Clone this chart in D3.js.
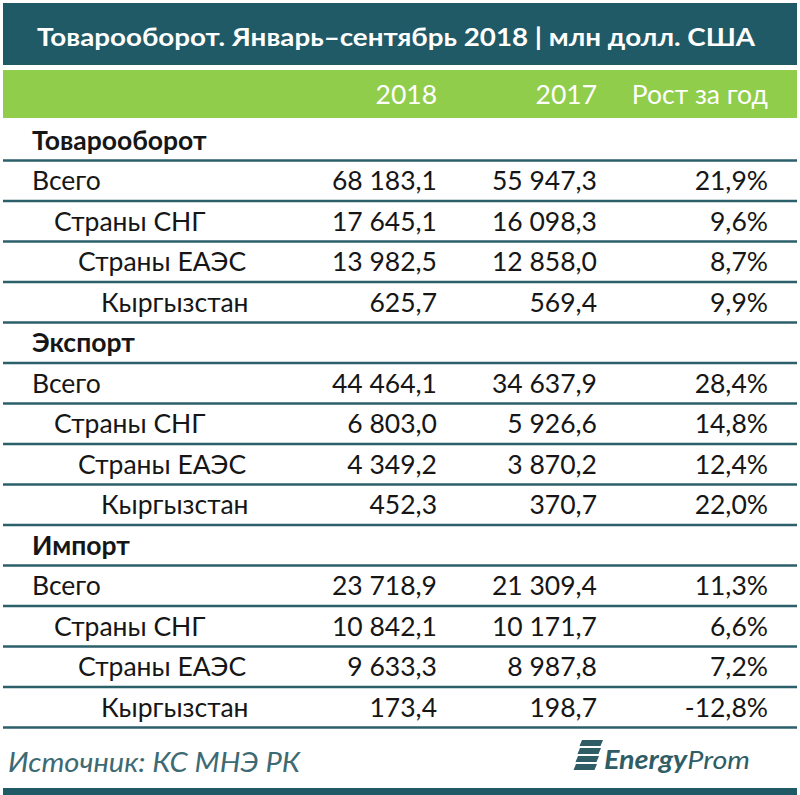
<!DOCTYPE html>
<html><head><meta charset="utf-8">
<script src="https://cdn.jsdelivr.net/npm/d3@7"></script>
<style>body{margin:0;background:#fff}svg{display:block}</style>
</head><body>
<script>
const title = "Товарооборот. Январь–сентябрь 2018 | млн долл. США";
const columns = ["2018", "2017", "Рост за год"];
const sections = ["Товарооборот", "Экспорт", "Импорт"];
const rowLabels = ["Всего", "Страны СНГ", "Страны ЕАЭС", "Кыргызстан"];
const values2018 = [68183.1, 17645.1, 13982.5, 625.7, 44464.1, 6803.0, 4349.2, 452.3, 23718.9, 10842.1, 9633.3, 173.4];
const values2017 = [55947.3, 16098.3, 12858.0, 569.4, 34637.9, 5926.6, 3870.2, 370.7, 21309.4, 10171.7, 8987.8, 198.7];
const growth = [21.9, 9.6, 8.7, 9.9, 28.4, 14.8, 12.4, 22.0, 11.3, 6.6, 7.2, -12.8];
const source = "Источник: КС МНЭ РК";

const W = 800, H = 795;
const FONT = "Lato, 'Open Sans', sans-serif";
const teal = "#1f5a66", green = "#8fcd4b", ink = "#161616";
const loc = d3.formatLocale({decimal: ",", thousands: " ", grouping: [3], currency: ["", ""], minus: "-"});
const fmtV = loc.format(",.1f"), fmtG = v => loc.format(".1f")(v) + "%";
const FS = 26.5;

const svg = d3.select("body").append("svg").attr("width", W).attr("height", H);

// build rows
const rows = [];
sections.forEach((s, si) => {
  rows.push({type: "section", label: s});
  rowLabels.forEach((l, li) => {
    const i = si * 4 + li;
    rows.push({type: "data", label: l, level: li, v18: values2018[i], v17: values2017[i], g: growth[i]});
  });
});

const y = d3.scaleBand().domain(d3.range(rows.length)).range([120, 727.5]);
const indent = d3.scaleOrdinal().domain([0, 1, 2, 3]).range([32, 54, 78, 101]);
const colX = [437, 597, 768];

// title band
svg.append("rect").attr("x", 3).attr("y", 3).attr("width", 794).attr("height", 62).attr("fill", teal);
svg.append("text").attr("x", 37).attr("y", 46).attr("fill", "#fff")
  .attr("font-family", FONT).attr("font-weight", 700).attr("font-size", 25)
  .attr("textLength", 718).attr("lengthAdjust", "spacingAndGlyphs")
  .text(title);

// green header
svg.append("rect").attr("x", 3).attr("y", 70).attr("width", 794).attr("height", 48).attr("fill", green);
svg.selectAll("text.col").data(columns).join("text").attr("class", "col")
  .attr("x", (d, i) => colX[i]).attr("y", 104).attr("text-anchor", "end")
  .attr("fill", "#fff").attr("font-family", FONT).attr("font-size", FS).text(d => d);

// rows
const g = svg.append("g");
const rowG = g.selectAll("g.row").data(rows).join("g").attr("class", "row")
  .attr("transform", (d, i) => `translate(0,${y(i) + y.bandwidth() / 2 + 9.5})`);
rowG.append("text")
  .attr("x", d => d.type === "section" ? 32 : indent(d.level))
  .attr("font-family", FONT).attr("font-size", FS).attr("fill", ink)
  .attr("font-weight", d => d.type === "section" ? 700 : 400)
  .text(d => d.label);
const dataRows = rowG.filter(d => d.type === "data");
[d => fmtV(d.v18), d => fmtV(d.v17), d => fmtG(d.g)].forEach((f, ci) => {
  dataRows.append("text").attr("x", colX[ci]).attr("text-anchor", "end")
    .attr("font-family", FONT).attr("font-size", FS).attr("fill", ink).text(f);
});

// separators
svg.selectAll("line.sep").data(rows).join("line").attr("class", "sep")
  .attr("x1", 3).attr("x2", 797)
  .attr("y1", (d, i) => y(i) + y.bandwidth()).attr("y2", (d, i) => y(i) + y.bandwidth())
  .attr("stroke", "#2b5f6a").attr("stroke-width", 2.5);

// source
svg.append("text").attr("x", 8).attr("y", 772).attr("fill", "#3d6a73")
  .attr("font-family", FONT).attr("font-style", "italic").attr("font-size", 27)
  .attr("textLength", 292).attr("lengthAdjust", "spacingAndGlyphs").text(source);

// logo
const logo = svg.append("g").attr("transform", "translate(575,740)").attr("fill", "#2f5d66");
[0, 1, 2, 3].forEach(k => {
  logo.append("path").attr("d", `M${7 - k * 2},${k * 8} h21 l-2.5,6 h-21 z`);
});
svg.append("text").attr("x", 604).attr("y", 769).attr("fill", "#2f5d66")
  .attr("font-family", FONT).attr("font-style", "italic").attr("font-size", 26)
  .attr("textLength", 146).attr("lengthAdjust", "spacingAndGlyphs")
  .html('<tspan font-weight="700">Energy</tspan><tspan font-weight="400">Prom</tspan>');

// bottom band
svg.append("rect").attr("x", 3).attr("y", 788).attr("width", 794).attr("height", 7).attr("fill", teal);
</script>
</body></html>
